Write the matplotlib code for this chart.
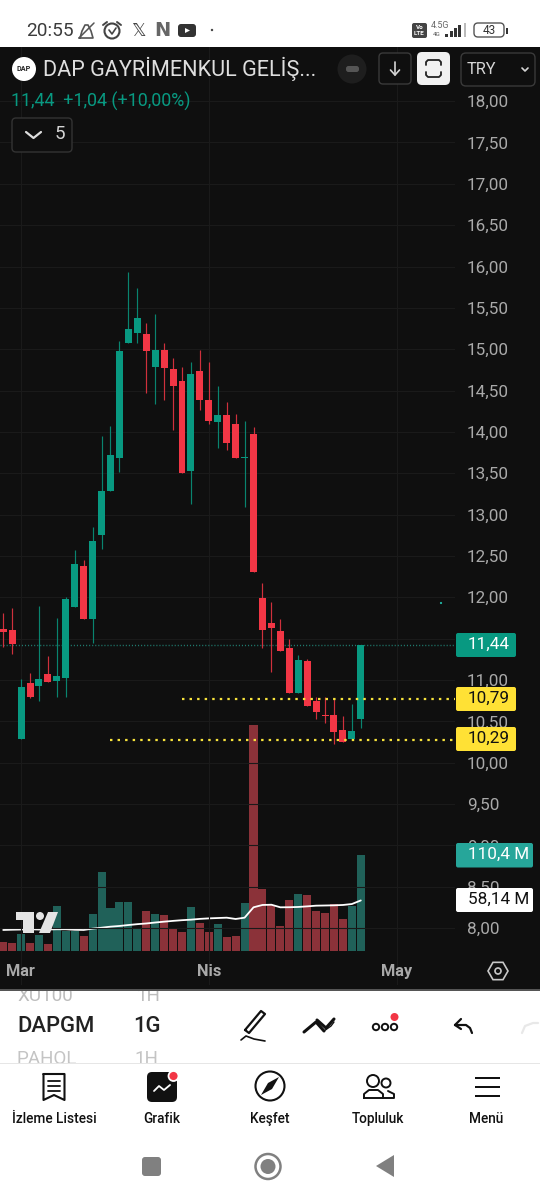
import matplotlib
matplotlib.use("Agg")
import matplotlib.pyplot as plt
from matplotlib.patches import Rectangle, FancyBboxPatch, Circle, Polygon
import numpy as np

plt.rcParams['font.family'] = ['Roboto', 'DejaVu Sans']

# ---------- data ----------
opens = [11.62,11.60,10.29,10.96,10.93,11.07,10.99,11.03,11.88,12.38,11.74,12.75,13.28,13.68,15.08,15.20,15.18,14.78,14.99,14.76,14.62,13.53,14.74,14.39,14.12,14.21,14.09,13.68,13.98,11.99,11.69,11.59,11.39,10.84,11.23,10.75,10.58,10.58,10.40,10.29,10.53]
highs = [11.81,11.87,11.01,11.08,11.89,11.29,11.75,12.00,12.57,12.45,12.85,13.95,14.07,15.10,15.93,15.74,15.32,15.43,15.08,14.89,14.78,14.85,14.99,14.84,14.56,14.36,14.22,14.13,14.06,12.17,11.94,11.74,11.50,11.30,11.25,10.80,10.79,10.77,10.57,10.71,11.42]
lows  = [11.40,11.31,10.29,10.78,10.75,10.98,10.79,10.80,11.88,11.74,11.45,12.58,13.28,13.51,15.08,15.08,14.47,14.34,14.39,14.02,13.50,13.13,14.27,14.10,13.80,13.78,13.68,13.09,12.31,11.39,11.10,11.35,10.84,10.84,10.68,10.53,10.48,10.23,10.25,10.29,10.42]
closes= [11.58,11.43,10.92,10.80,11.01,10.98,11.05,11.98,12.40,11.74,12.68,13.29,13.72,14.98,15.24,15.38,14.98,14.99,14.77,14.55,13.50,14.70,14.39,14.13,14.21,13.87,13.68,13.69,12.31,11.60,11.63,11.35,10.84,11.24,10.68,10.61,10.57,10.37,10.25,10.38,11.42]
volumes = [10.4,9.3,19.3,9.3,18.1,7.7,52.1,23.1,23.1,17.4,42.4,91.4,49.4,56.7,56.7,26.6,45.5,42.8,41.3,25.1,21.2,50.3,31.6,21.6,30.9,15.4,16.6,54.7,261.1,71.4,52.4,28.6,58.7,65.9,64.0,46.3,44.0,54.0,36.2,51.7,110.4]
vol_ma = [24.0,24.3,24.5,24.8,24.5,24.5,24.8,24.8,24.2,24.0,25.5,26.6,27.8,28.6,29.7,30.7,31.5,32.6,33.6,34.5,35.3,35.9,36.8,37.4,37.8,38.2,36.7,38.2,50.2,52.9,53.2,50.2,50.3,50.6,51.3,52.1,52.3,52.5,52.9,54.0,58.14]
price_ticks = [8.0,8.5,9.0,9.5,10.0,10.5,11.0,11.5,12.0,12.5,13.0,13.5,14.0,14.5,15.0,15.5,16.0,16.5,17.0,17.5,18.0]
month_pos = [1.96,23.0,44.05]
month_labels = ['Mar','Nis','May']
level_prices = [10.79,10.29]
last_price = 11.42

GREEN='#089981'; RED='#F23645'; BG='#0f0f0f'; GRID='#1a1a1a'; TICK='#a9a9a9'
W,H=540,1199
fig=plt.figure(figsize=(5.4,11.99),dpi=100,facecolor='white')
fig.add_artist(Rectangle((0,(H-990)/H),1,(990-47)/H,transform=fig.transFigure,fc=BG,ec='none',zorder=-5))

L,R,T,B=0,455,47,990
pos=[L/W,(H-B)/H,(R-L)/W,(B-T)/H]
xlim=((L-3.2)/8.94,(R-3.2)/8.94)
ylim=(11-(B-680)/82.7,11+(680-T)/82.7)
vlim=(-(B-950.7)*1.157,(950.7-T)*1.157)

axv=fig.add_axes(pos,facecolor='none',zorder=1)
ax=fig.add_axes(pos,facecolor='none',zorder=2)
idx=np.arange(len(opens))
o,h,l,c=map(np.array,(opens,highs,lows,closes))
up=np.array([i in (2,4,6,7,8,10,11,12,13,14,15,17,21,24,27,33,39,40) for i in idx])
cols=[GREEN if u else RED for u in up]

axv.set_xlim(xlim);axv.set_ylim(vlim);axv.axis('off')
axv.bar(idx,volumes,width=0.9,color=[('#2fa597' if u else '#f2505c') for u in up],alpha=0.55,linewidth=0)
axv.plot(idx,vol_ma,color='white',lw=1.3,solid_capstyle='round')

ax.set_xlim(xlim);ax.set_ylim(ylim)
ax.set_axisbelow(True)
ax.grid(True,color=GRID,lw=0.8)
for s in ax.spines.values(): s.set_visible(False)
ax.set_yticks(price_ticks)
ax.set_yticklabels([f'{p:.2f}'.replace('.',',') for p in price_ticks],color=TICK,fontsize=12.3,ha='left')
ax.yaxis.tick_right()
ax.tick_params(axis='y',length=0,pad=8.7)
ax.set_xticks(month_pos);ax.set_xticklabels(month_labels,color=TICK,fontsize=11.8,fontweight='bold')
ax.tick_params(axis='x',length=0,pad=-18.5,direction='in')
ax.vlines(idx,l,h,colors=cols,lw=0.85,alpha=0.85,zorder=3)
ax.bar(idx,np.maximum(np.abs(c-o),0.012),bottom=np.minimum(o,c),width=0.78,color=cols,linewidth=0,zorder=4)
ax.hlines(last_price,xlim[0],xlim[1],colors='#1f7a6e',lw=1.0,linestyles=(0,(0.8,1.4)),zorder=2)
ax.hlines(level_prices[0]-0.02,(182-3.2)/8.94,xlim[1],colors='#f7e33c',lw=1.6,linestyles=(0,(1.1,2.3)),zorder=6)
ax.hlines(level_prices[1]-0.01,(110-3.2)/8.94,xlim[1],colors='#f7e33c',lw=1.6,linestyles=(0,(1.1,2.3)),zorder=6)

# ---------- interface overlay in pixel coordinates ----------
ui=fig.add_axes([0,0,1,1],facecolor='none',zorder=5)
ui.set_xlim(0,W);ui.set_ylim(H,0);ui.axis('off')
def rrect(x0,y0,x1,y1,r=2,fc='none',ec='none',lw=1,z=5):
    p=FancyBboxPatch((x0+r,y0+r),x1-x0-2*r,y1-y0-2*r,boxstyle=f'round,pad={r},rounding_size={r}',fc=fc,ec=ec,lw=lw,zorder=z)
    ui.add_patch(p);return p
def txt(x,y,s,**k):
    k.setdefault('va','center');k.setdefault('ha','left')
    return ui.text(x,y,s,**k)
def line(xs,ys,c='#111111',lw=1.4,z=6):
    ui.plot(xs,ys,color=c,lw=lw,zorder=z,solid_capstyle='round',solid_joinstyle='round')

# right-hand tags
for (y0,y1,x1,fc,tc,s) in [(633,657,516,'#089981','white','11,44'),(687,711,516,'#ffe135','#111111','10,79'),(727,751,516,'#ffe135','#111111','10,29'),
                           (843,867.5,533,'#26a69a','white','110,4 M'),(888,912,533,'white','#111111','58,14 M')]:
    rrect(456,y0,x1,y1,r=2,fc=fc)
    txt(468,(y0+y1)/2-0.5,s,color=tc,fontsize=12.3,zorder=7)
ui.add_patch(Circle((441,603),1.1,fc='#22b8a5',ec='none',zorder=6))

# TradingView mark
ui.add_patch(Polygon([(16,912),(34,912),(34,933),(23,933),(23,920),(16,920)],fc='#e4e4e4',ec='none',zorder=7))
ui.add_patch(Circle((40,916),4,fc='#e4e4e4',ec='none',zorder=7))
ui.add_patch(Polygon([(48,912),(58,912),(50,933),(39,933)],fc='#e4e4e4',ec='none',zorder=7))

# status bar
txt(26,31,'20:55',color='#3c3c3c',fontsize=13.7)
line([80,82,85,88,91,93,79],[38,31,25,25,31,38,38],'#555555',1.2)
line([79,94],[38,23],'#555555',1.1)
ui.add_patch(Circle((112,31),7.5,fc='none',ec='#444444',lw=1.5,zorder=6))
line([109,112,116],[30,34,28],'#444444',1.2)
line([103,107],[25,22],'#444444',1.4);line([117,121],[22,25],'#444444',1.4)
txt(138,31,'𝕏',ha='center',color='#444444',fontsize=13,family=['DejaVu Sans'])
txt(162,31,'N',ha='center',color='#666666',fontsize=14,fontweight='bold',family=['DejaVu Sans'])
rrect(178,24,196,37,r=3,fc='#333333',z=6)
ui.add_patch(Polygon([(185,28),(190,30.5),(185,33)],fc='white',ec='none',zorder=7))
ui.add_patch(Circle((212,30),1.2,fc='#444444',ec='none',zorder=6))
rrect(412,23,427,38,r=2,fc='#444444',z=6)
txt(419.5,27.5,'Vo',ha='center',color='white',fontsize=4.5,fontweight='bold',zorder=7)
txt(419.5,33.5,'LTE',ha='center',color='white',fontsize=4.5,fontweight='bold',zorder=7)
txt(431,25,'4.5G',color='#666666',fontsize=6.4)
txt(433,34,'4G',color='#555555',fontsize=4.5)
for xb,yb,cb in [(446,34,'#333333'),(451,31,'#333333'),(455,28,'#333333'),(459,25,'#333333'),(464.5,23,'#bbbbbb')]:
    ui.add_patch(Rectangle((xb-1,yb),2.5,37-yb,fc=cb,ec='none',zorder=6))
rrect(474,23,504,37,r=4,ec='#555555',lw=1.0,z=6)
txt(489,30.5,'43',ha='center',color='#333333',fontsize=8.5)
ui.add_patch(Rectangle((506,27.5),1.5,6,fc='#333333',ec='none',zorder=6))

# header row
ui.add_patch(Circle((24,69),12,fc='white',ec='none',zorder=6))
txt(24,69,'DAP',ha='center',color='#222222',fontsize=5.2,fontweight='bold',zorder=7)
txt(43,69,'DAP GAYRİMENKUL GELİŞ...',color='#dedede',fontsize=15.6)
ui.add_patch(Circle((352,69),14.5,fc='#1e1e1e',ec='none',zorder=6))
rrect(346,66,359,72,r=2.5,fc='#555555',z=7)
rrect(379,53,411,84,r=4,fc=BG,ec='#3a3a3a',lw=1,z=6)
line([395,395],[62,75],'#d5d5d5',1.2);line([390.5,395,399.5],[70,75,70],'#d5d5d5',1.2)
rrect(417,52,450,85,r=5,fc='#f1f1f1',z=6)
line([426,426,428,439,441,441],[65,62,60,60,62,65],'#222222',1.3,7)
line([426,426,428,439,441,441],[72,75,77,77,75,72],'#222222',1.3,7)
rrect(461,53,535,86,r=5,fc=BG,ec='#3a3a3a',lw=1,z=6)
txt(467,69.5,'TRY',color='#d5d5d5',fontsize=11.8,zorder=7)
line([522,525,528],[68,71,68],'#d5d5d5',1.2,7)
txt(11,101,'11,44  +1,04 (+10,00%)',color='#089981',fontsize=12.9)
rrect(12,118,72,152,r=4,fc=BG,ec='#333333',lw=1,z=6)
line([26,33.5,41],[132,138,132],'#dddddd',1.6,7)
txt(60,134,'5',ha='center',color='#d5d5d5',fontsize=13.5,zorder=7)

# hexagon settings icon
a=np.deg2rad(np.arange(0,360,60))
ui.add_patch(Polygon(np.c_[498+10*np.cos(a),971+10*np.sin(a)],fc='none',ec='#c8c8c8',lw=1.2,zorder=6))
ui.add_patch(Circle((498,971),3,fc='none',ec='#c8c8c8',lw=1.2,zorder=6))

# symbol picker
txt(17,996,'XU100',color='#bdbdbd',fontsize=13.6,zorder=2)
txt(136,996,'1H',color='#bdbdbd',fontsize=13.6,zorder=2)
txt(17,1059,'PAHOL',color='#c4c4c4',fontsize=13.6,zorder=2)
txt(134,1059,'1H',color='#c4c4c4',fontsize=13.6,zorder=2)
ui.add_patch(Rectangle((0,985),W,5,fc=BG,ec='none',zorder=3))
ui.add_patch(Rectangle((0,989.3),W,1.2,fc='#555555',ec='none',zorder=3))
ui.add_patch(Rectangle((0,1063.5),W,6,fc='white',ec='none',zorder=3))
ui.add_patch(Rectangle((0,1063),W,0.9,fc='#e6e6e6',ec='none',zorder=3))
txt(17,1026,'DAPGM',color='#222222',fontsize=15.8,fontweight='medium')
txt(133,1026,'1G',color='#222222',fontsize=15.8,fontweight='medium')

# drawing tools
line([245,249,265,261,245],[1030,1033,1014,1011,1030],'#111111',1.6)
line([241,246,254,265],[1040,1036,1039,1041],'#111111',1.2)
line([304,316,324],[1032,1022,1031],'#111111',2.2);line([324,331,334],[1031,1026,1022],'#111111',1.0)
line([317,326,334],[1020,1028,1019],'#111111',2.2)
for cx in (376,385,394):
    ui.add_patch(Circle((cx,1027),3.2,fc='none',ec='#111111',lw=1.4,zorder=6))
ui.add_patch(Circle((394.5,1017),4,fc='#f23645',ec='none',zorder=7))
ui.add_patch(Rectangle((423.5,1010),0.8,32,fc='#e8e8e8',ec='none',zorder=6))
line([455,461],[1025,1019],'#111111',1.6);line([455,461],[1025,1029],'#111111',1.6)
line([455,466,470,472],[1025,1025,1028,1033],'#111111',1.6)
line([522,525,533,538],[1033,1026,1023,1023],'#e8e8e8',1.6)

# bottom navigation
labels=[('İzleme Listesi',54),('Grafik',162),('Keşfet',270),('Topluluk',378),('Menü',486.5)]
for s,x in labels:
    txt(x,1119,s,ha='center',color='#111111',fontsize=9.8,fontweight='medium')
line([43.5,64.5,64.5,54,43.5,43.5],[1074,1074,1100,1095,1100,1074],'#111111',1.5)
for yy in (1081,1086,1091):
    line([48,60],[yy,yy],'#111111',1.3)
rrect(147,1072,177,1102,r=5,fc='#111111',z=6)
line([154,159,164,170],[1091,1086,1090,1085],'white',1.3,7)
ui.add_patch(Circle((173.5,1076),5,fc='#f23645',ec='white',lw=1.3,zorder=8))
ui.add_patch(Circle((270,1086),14.5,fc='none',ec='#111111',lw=1.5,zorder=6))
ui.add_patch(Polygon([(279,1077),(272,1089),(261,1095),(268,1083)],fc='#111111',ec='none',zorder=7))
ui.add_patch(Circle((373,1081),6,fc='none',ec='#111111',lw=1.4,zorder=6))
ui.add_patch(Circle((386,1083),4.5,fc='none',ec='#111111',lw=1.4,zorder=6))
line([364,364,369,378,383,383,364],[1098,1094,1090,1090,1094,1098,1098],'#111111',1.4)
line([383,394,394,388],[1098,1098,1094,1091],'#111111',1.4)
for yy in (1078,1087,1096):
    ui.add_patch(Rectangle((474.5,yy-1.2),25.5,2.4,fc='#111111',ec='none',zorder=6))

# system bar
rrect(142,1157,161,1176,r=3,fc='#808080',z=6)
ui.add_patch(Circle((268,1166.5),12.5,fc='none',ec='#808080',lw=1.8,zorder=6))
ui.add_patch(Circle((268,1166.5),7.5,fc='#808080',ec='none',zorder=6))
ui.add_patch(Polygon([(376,1166),(394,1155),(394,1177)],fc='#808080',ec='none',zorder=6))

fig.savefig('out.png',dpi=100,facecolor='white')
